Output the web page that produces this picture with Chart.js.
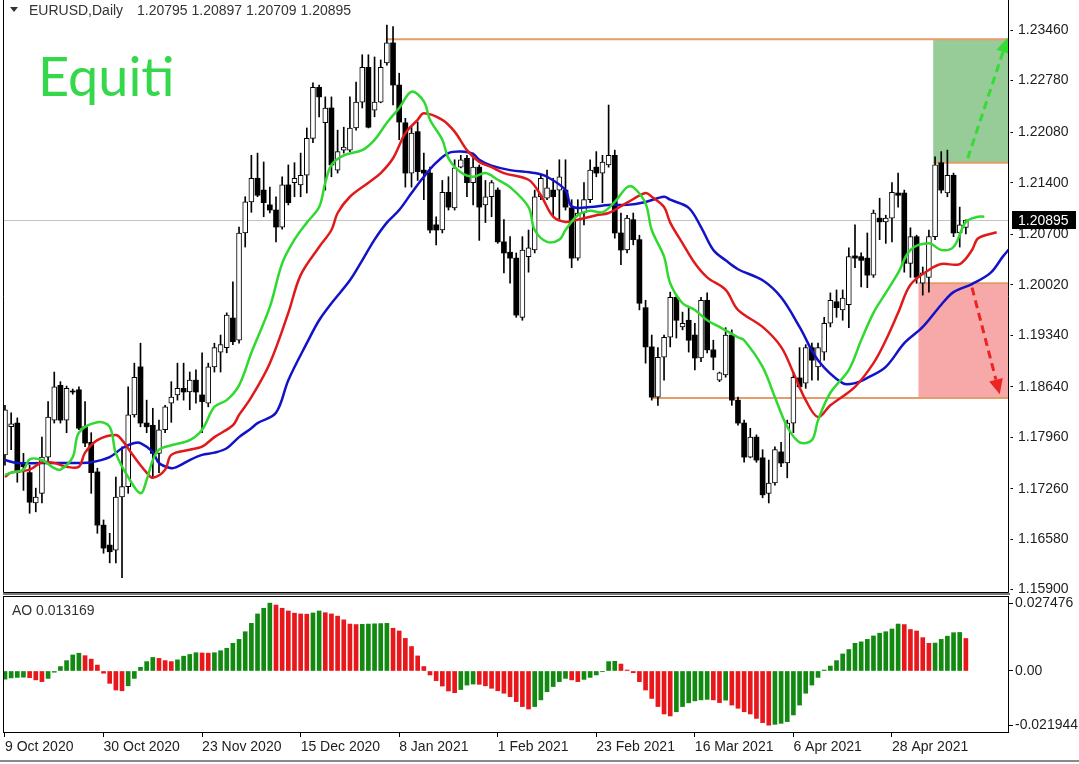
<!DOCTYPE html>
<html><head><meta charset="utf-8">
<script src="https://cdn.jsdelivr.net/npm/chart.js@4.4.1/dist/chart.umd.min.js"></script>
<style>
html,body{margin:0;padding:0;background:#fff;}
#wrap{position:relative;width:1079px;height:764px;overflow:hidden;background:#fff;font-family:'Liberation Sans',Arial,sans-serif;}
canvas{position:absolute;left:0;}
#main{top:0;width:1079px;height:596px;}
#ao{top:596px;width:1079px;height:168px;}
.txt{position:absolute;white-space:nowrap;color:#333;font-size:14px;line-height:16px;}
</style></head><body>
<div id="wrap">
<canvas id="main" width="1079" height="596"></canvas>
<canvas id="ao" width="1079" height="168"></canvas>
<div style="position:absolute;left:10px;top:7px;width:0;height:0;border-left:4px solid transparent;border-right:4px solid transparent;border-top:5px solid #333;"></div>
<div class="txt" id="sym" style="left:29px;top:2px;"></div>
<div class="txt" id="ohlc" style="left:137px;top:2px;"></div>
<div id="brand" style="position:absolute;left:38px;top:49px;font-family:Lato,sans-serif;font-size:54px;line-height:54px;color:#35d84a;">Equiti</div>
<div class="txt" id="aolab" style="left:12px;top:602px;"></div>
<div style="position:absolute;left:0;top:760px;width:1079px;height:2px;background:#8a8a8a;"></div>
</div>
<script>
const symbolName = 'EURUSD,Daily';
const dateLabels = ['9 Oct 2020','30 Oct 2020','23 Nov 2020','15 Dec 2020','8 Jan 2021','1 Feb 2021','23 Feb 2021','16 Mar 2021','6 Apr 2021','28 Apr 2021'];
const dateTickIdx = [0,16,32,48,64,80,96,112,128,144];
const priceTicks = [1.2346,1.2278,1.2208,1.2140,1.2070,1.2002,1.1934,1.1864,1.1796,1.1726,1.1658,1.1590];
const aoTickVals = [0.027476, 0, -0.021944];
const aoTickLabels = ['0.027476','0.00','-0.021944'];

const open = [1.1772,1.1810,1.1815,1.1762,1.1748,1.1707,1.1720,1.1769,1.1819,1.1866,
1.1819,1.1858,1.1860,1.1810,1.1789,1.1749,1.1677,1.1650,1.1643,1.1715,
1.1729,1.1826,1.1891,1.1815,1.1812,1.1774,1.1806,1.1842,1.1853,1.1862,
1.1857,1.1873,1.1853,1.1842,1.1891,1.1911,1.1917,1.1957,1.1927,1.2072,
1.2114,1.2146,1.2130,1.2110,1.2103,1.2080,1.2137,1.2140,1.2137,1.2150,
1.2200,1.2269,1.2221,1.2241,1.2157,1.2184,1.2184,1.2214,1.2249,1.2296,
1.2238,1.2249,1.2302,1.2329,1.2272,1.2221,1.2153,1.2209,1.2157,1.2153,
1.2083,1.2076,1.2127,1.2106,1.2161,1.2173,1.2140,1.2161,1.2110,1.2121,
1.2130,1.2060,1.2046,1.2038,1.1958,1.2040,1.2049,1.2121,1.2119,1.2130,
1.2130,1.2130,1.2106,1.2038,1.2099,1.2117,1.2161,1.2153,1.2164,1.2177,
1.2072,1.2049,1.2090,1.2063,1.1971,1.1918,1.1850,1.1904,1.1931,1.1985,
1.1945,1.1954,1.1934,1.1903,1.1981,1.1914,1.1873,1.1880,1.1934,1.1846,
1.1815,1.1769,1.1796,1.1768,1.1720,1.1734,1.1776,1.1761,1.1815,1.1876,
1.1869,1.1917,1.1891,1.1911,1.1950,1.1979,1.1968,1.1975,1.2041,1.2040,
1.2038,1.2015,1.2092,1.2087,1.2092,1.2126,1.2126,1.2031,1.2067,1.2004,
1.2012,1.2067,1.2167,1.2126,1.2150,1.2072,1.20795];
const high = [1.1839,1.1829,1.1822,1.1774,1.1758,1.1727,1.1796,1.1844,1.1884,1.1871,
1.1865,1.1861,1.1864,1.1844,1.1802,1.1754,1.1684,1.1666,1.1742,1.1783,
1.1864,1.1896,1.1923,1.1846,1.1835,1.1819,1.1839,1.1871,1.1896,1.1896,
1.1884,1.1887,1.1910,1.1896,1.1923,1.1934,1.1964,1.2006,1.2080,1.2121,
1.2177,1.2180,1.2168,1.2134,1.2121,1.2148,1.2164,1.2167,1.2180,1.2214,
1.2275,1.2272,1.2256,1.2256,1.2211,1.2215,1.2256,1.2276,1.2313,1.2313,
1.2310,1.2306,1.2353,1.2351,1.2288,1.2227,1.2215,1.2222,1.2180,1.2161,
1.2094,1.2143,1.2148,1.2171,1.2177,1.2177,1.2180,1.2164,1.2143,1.2143,
1.2133,1.2090,1.2067,1.2045,1.2067,1.2076,1.2130,1.2150,1.2157,1.2146,
1.2171,1.2171,1.2117,1.2117,1.2140,1.2171,1.2182,1.2177,1.2245,1.2184,
1.2099,1.2096,1.2099,1.2069,1.1981,1.1934,1.1917,1.1934,1.1992,1.1988,
1.1965,1.1971,1.1950,1.1985,1.1991,1.1927,1.1884,1.1944,1.1941,1.1850,
1.1819,1.1808,1.1799,1.1779,1.1765,1.1783,1.1789,1.1819,1.1883,1.1917,
1.1921,1.1923,1.1923,1.1958,1.1991,1.1995,1.1995,1.2052,1.2083,1.2045,
1.2072,1.2103,1.2119,1.2096,1.2140,1.2153,1.2130,1.2079,1.2069,1.2026,
1.2076,1.2175,1.2182,1.2184,1.2153,1.2107,1.20897];
const low = [1.1758,1.1779,1.1735,1.1724,1.1693,1.1695,1.1707,1.1761,1.1815,1.1815,
1.1802,1.1854,1.1806,1.1783,1.1720,1.1666,1.1639,1.1626,1.1626,1.1606,
1.1720,1.1823,1.1810,1.1802,1.1742,1.1748,1.1802,1.1816,1.1846,1.1846,
1.1833,1.1842,1.1802,1.1837,1.1884,1.1884,1.1910,1.1921,1.1923,1.2053,
1.2100,1.2121,1.2094,1.2099,1.2060,1.2077,1.2110,1.2121,1.2121,1.2126,
1.2194,1.2229,1.2130,1.2148,1.2153,1.2180,1.2182,1.2211,1.2241,1.2214,
1.2229,1.2248,1.2299,1.2245,1.2198,1.2134,1.2134,1.2143,1.2117,1.2072,
1.2056,1.2072,1.2103,1.2103,1.2160,1.2121,1.2110,1.2062,1.2086,1.2094,
1.2058,1.2018,1.2004,1.1958,1.1954,1.2019,1.2045,1.2117,1.2117,1.2094,
1.2090,1.2103,1.2025,1.2035,1.2083,1.2113,1.2148,1.2113,1.2161,1.2065,
1.2029,1.2045,1.2056,1.1968,1.1896,1.1846,1.1839,1.1873,1.1918,1.1930,
1.1941,1.1911,1.1887,1.1898,1.1910,1.1887,1.1871,1.1877,1.1839,1.1812,
1.1762,1.1768,1.1762,1.1714,1.1707,1.1731,1.1756,1.1741,1.1802,1.1862,
1.1862,1.1873,1.1873,1.1900,1.1945,1.1958,1.1954,1.1944,1.2025,1.1999,
1.1998,1.2012,1.2063,1.2058,1.2060,1.2107,1.2019,1.2012,1.2004,1.1988,
1.1992,1.2063,1.2126,1.2121,1.2067,1.2053,1.20709];
const close = [1.1833,1.1814,1.1748,1.1756,1.1708,1.1715,1.1769,1.1823,1.1864,1.1819,
1.1862,1.1857,1.1808,1.1788,1.1748,1.1677,1.1646,1.1641,1.1715,1.1729,
1.1826,1.1877,1.1815,1.1810,1.1774,1.1806,1.1837,1.1850,1.1862,1.1857,
1.1873,1.1857,1.1844,1.1891,1.1917,1.1921,1.1961,1.1925,1.2072,1.2114,
1.2146,1.2123,1.2113,1.2103,1.2080,1.2137,1.2113,1.2146,1.2150,1.2200,
1.2269,1.2256,1.2241,1.2164,1.2182,1.2188,1.2214,1.2249,1.2296,1.2215,
1.2249,1.2296,1.2329,1.2272,1.2222,1.2153,1.2207,1.2155,1.2153,1.2076,
1.2076,1.2127,1.2107,1.2160,1.2171,1.2140,1.2161,1.2107,1.2121,1.2140,
1.2060,1.2045,1.2038,1.1961,1.2049,1.2052,1.2121,1.2146,1.2133,1.2121,
1.2148,1.2107,1.2038,1.2099,1.2117,1.2157,1.2153,1.2168,1.2177,1.2072,
1.2049,1.2092,1.2063,1.1977,1.1918,1.1850,1.1904,1.1931,1.1985,1.1954,
1.1950,1.1927,1.1903,1.1981,1.1914,1.1904,1.1883,1.1934,1.1846,1.1815,
1.1769,1.1796,1.1765,1.1718,1.1734,1.1779,1.1761,1.1815,1.1877,1.1864,
1.1917,1.1900,1.1917,1.1950,1.1981,1.1971,1.1984,1.2040,1.2038,1.2035,
1.2015,1.2099,1.2087,1.2092,1.2127,1.2123,1.2031,1.2067,1.2012,1.2018,
1.2067,1.2164,1.2130,1.2150,1.2072,1.2083,1.20895];

// Alligator lines: [bar index, price]
const lips = [[0,1.1745],[1,1.1748],[3,1.1752],[4,1.1766],[6,1.1765],[8,1.1754],[9,1.1752],[11,1.1769],[12,1.1802],[15,1.1816],[17,1.1810],[18,1.1774],[20,1.1742],[22,1.1720],[23,1.1738],[24,1.1765],[25,1.1779],[27,1.1785],[30,1.1792],[32,1.1806],[34,1.1837],[36,1.1846],[38,1.1866],[40,1.1910],[43,1.1972],[45,1.2031],[47,1.2063],[49,1.2086],[51,1.2107],[52,1.2140],[53,1.2164],[55,1.2177],[58,1.2184],[60,1.2198],[62,1.2221],[64,1.2241],[66,1.2263],[68,1.2250],[69,1.2225],[71,1.2198],[72,1.2173],[74,1.2154],[76,1.2148],[78,1.2153],[80,1.2144],[82,1.2134],[85,1.2107],[86,1.2076],[88,1.2060],[90,1.2063],[91,1.2076],[93,1.2096],[95,1.2102],[97,1.2100],[99,1.2114],[101,1.2134],[102,1.2134],[104,1.2112],[105,1.2076],[107,1.2040],[108,1.2004],[110,1.1977],[112,1.1968],[114,1.1954],[116,1.1945],[119,1.1931],[120,1.1927],[123,1.1891],[125,1.1850],[127,1.1810],[129,1.1789],[131,1.1792],[132,1.1819],[134,1.1856],[137,1.1887],[139,1.1927],[141,1.1964],[143,1.1991],[145,1.2018],[147,1.2049],[150,1.2058],[152,1.2049],[154,1.2053],[156,1.2087],[158,1.2094],[159,1.2094]];
const teeth = [[0,1.1742],[1,1.1748],[4,1.1752],[6,1.1762],[8,1.1761],[10,1.1756],[12,1.1756],[13,1.1775],[15,1.1792],[18,1.1799],[19,1.1792],[21,1.1769],[23,1.1748],[24,1.1741],[26,1.1752],[27,1.1772],[30,1.1779],[32,1.1783],[34,1.1796],[37,1.1812],[38,1.1826],[40,1.1850],[43,1.1896],[46,1.1964],[48,1.2015],[51,1.2053],[53,1.2076],[54,1.2099],[56,1.2121],[59,1.2140],[61,1.2153],[63,1.2173],[65,1.2207],[67,1.2225],[68,1.2234],[71,1.2225],[73,1.2209],[75,1.2184],[77,1.2168],[79,1.2161],[81,1.2153],[85,1.2144],[87,1.2123],[89,1.2094],[91,1.2087],[93,1.2090],[96,1.2096],[98,1.2099],[101,1.2113],[104,1.2126],[105,1.2121],[107,1.2107],[108,1.2086],[110,1.2058],[112,1.2031],[114,1.2012],[117,1.1995],[119,1.1968],[123,1.1945],[126,1.1918],[128,1.1883],[130,1.1846],[132,1.1823],[134,1.1839],[138,1.1864],[141,1.1896],[143,1.1927],[145,1.1964],[147,1.2002],[150,1.2022],[152,1.2030],[155,1.2030],[157,1.2049],[158,1.2065],[161,1.2073]];
const jaw = [[0,1.1765],[2,1.1761],[6,1.1761],[9,1.1761],[12,1.1761],[14,1.1762],[17,1.1769],[19,1.1781],[21,1.1788],[22,1.1788],[24,1.1776],[25,1.1761],[27,1.1754],[28,1.1756],[30,1.1765],[32,1.1772],[34,1.1775],[36,1.1781],[38,1.1796],[40,1.1808],[41,1.1815],[44,1.1829],[46,1.1873],[49,1.1923],[51,1.1954],[53,1.1977],[56,1.2008],[58,1.2035],[60,1.2063],[62,1.2086],[64,1.2103],[66,1.2126],[68,1.2148],[70,1.2167],[72,1.2180],[74,1.2182],[76,1.2179],[77,1.2171],[79,1.2163],[82,1.2157],[86,1.2153],[88,1.2148],[91,1.2130],[92,1.2108],[95,1.2107],[98,1.2110],[101,1.2110],[104,1.2114],[107,1.2121],[108,1.2117],[111,1.2106],[113,1.2080],[115,1.2049],[117,1.2035],[119,1.2023],[123,1.2008],[126,1.1985],[129,1.1945],[132,1.1900],[136,1.1869],[138,1.1869],[140,1.1876],[143,1.1891],[146,1.1923],[149,1.1945],[152,1.1975],[154,1.1992],[157,1.2003],[160,1.2018],[162,1.2040],[164,1.2060]];

const ao = [-0.0033,-0.0028,-0.0026,-0.0025,-0.0027,-0.0036,-0.0043,-0.0030,-0.0005,0.0018,
0.0042,0.0065,0.0072,0.0062,0.0048,0.0024,-0.0009,-0.0050,-0.0077,-0.0080,
-0.0060,-0.0030,0.0015,0.0038,0.0055,0.0051,0.0042,0.0038,0.0045,0.0060,
0.0067,0.0074,0.0073,0.0072,0.0074,0.0082,0.0092,0.0112,0.0128,0.0159,
0.0193,0.0231,0.0254,0.027476,0.0267,0.0254,0.0243,0.0234,0.0231,0.0230,
0.0235,0.0243,0.0236,0.0231,0.0222,0.0207,0.0190,0.0188,0.0189,0.0190,
0.0191,0.0192,0.0193,0.0173,0.0162,0.0132,0.0099,0.0061,0.0018,-0.0016,
-0.0039,-0.0061,-0.0081,-0.0088,-0.0075,-0.0057,-0.0053,-0.0054,-0.0060,-0.0070,
-0.0080,-0.0090,-0.0104,-0.0124,-0.0144,-0.0154,-0.0144,-0.0117,-0.0084,-0.0063,
-0.0043,-0.0030,-0.0036,-0.0043,-0.0034,-0.0026,-0.0016,-0.0003,0.0038,0.0039,
0.0028,0.0004,-0.0007,-0.0043,-0.0077,-0.0111,-0.0144,-0.0174,-0.0182,-0.0165,
-0.0144,-0.0129,-0.0121,-0.0117,-0.0115,-0.0117,-0.0128,-0.0118,-0.0138,-0.0151,
-0.0165,-0.0174,-0.0192,-0.0209,-0.021944,-0.0216,-0.0212,-0.0205,-0.0178,-0.0138,
-0.0090,-0.0057,-0.0026,0.0004,0.0020,0.0042,0.0069,0.0087,0.0112,0.0118,
0.0128,0.0142,0.0153,0.0159,0.0170,0.0190,0.0188,0.0168,0.0162,0.0135,
0.0112,0.0113,0.0128,0.0141,0.0155,0.0156,0.013169];

const bidPrice = 1.20895;
// horizontal levels: [start bar index, price]
const levelLines = [[62.0,1.2334],[150.7,1.2167],[148.3,1.2004],[105.0,1.1849]];
// shaded zones: [start bar index, low price, high price]
const greenZone = [150.7,1.2167,1.2334];
const redZone = [148.3,1.1849,1.2004];
// arrows: [x0, p0, x1, p1]
const upArrow = [156.3,1.2173,162.8,1.2336];
const downArrow = [157.0,1.1998,161.5,1.1854];

const xMin = -0.16, xMax = 162.84;
const priceMin = 1.15866, priceMax = 1.2387;
const aoMin = -0.0247, aoMax = 0.03036;

Chart.defaults.font.family = "'Liberation Sans', Arial, sans-serif";
Chart.defaults.font.size = 14;
Chart.defaults.color = '#1e1e1e';

const n = open.length;
document.getElementById('sym').textContent = symbolName;
document.getElementById('ohlc').textContent = [open[n-1],high[n-1],low[n-1],close[n-1]].map(v=>v.toFixed(5)).join(' ');
document.getElementById('aolab').textContent = 'AO ' + ao[n-1];

const wickData = [], bullData = [], bearData = [];
for (let i = 0; i < n; i++) {
  wickData.push({x:i, y:[low[i], high[i]]});
  const b = {x:i, y:[Math.min(open[i],close[i]), Math.max(open[i],close[i])]};
  if (close[i] >= open[i]) bullData.push(b); else bearData.push(b);
}
const toXY = arr => arr.map(p => ({x:p[0], y:p[1]}));

function drawArrow(ctx, xs, ys, a, color) {
  const x0 = xs.getPixelForValue(a[0]), y0 = ys.getPixelForValue(a[1]);
  const x1 = xs.getPixelForValue(a[2]), y1 = ys.getPixelForValue(a[3]);
  const ang = Math.atan2(y1 - y0, x1 - x0);
  const hl = 15, hw = 7;
  const bx = x1 - hl * Math.cos(ang), by = y1 - hl * Math.sin(ang);
  ctx.save();
  ctx.strokeStyle = color; ctx.fillStyle = color; ctx.lineWidth = 3;
  ctx.setLineDash([8,5]);
  ctx.beginPath(); ctx.moveTo(x0,y0); ctx.lineTo(bx,by); ctx.stroke();
  ctx.setLineDash([]);
  ctx.beginPath();
  ctx.moveTo(x1,y1);
  ctx.lineTo(bx + hw*Math.sin(ang), by - hw*Math.cos(ang));
  ctx.lineTo(bx - hw*Math.sin(ang), by + hw*Math.cos(ang));
  ctx.closePath(); ctx.fill();
  ctx.restore();
}

const mainDecor = {
  id: 'mainDecor',
  beforeDatasetsDraw(chart) {
    const {ctx, chartArea: ca, scales: {x, y}} = chart;
    ctx.save();
    ctx.beginPath(); ctx.rect(ca.left, ca.top, ca.right - ca.left, ca.bottom - ca.top); ctx.clip();
    const zone = (z, c) => {
      const xl = x.getPixelForValue(z[0]);
      const yt = y.getPixelForValue(z[2]), yb = y.getPixelForValue(z[1]);
      ctx.fillStyle = c; ctx.fillRect(xl, yt, ca.right - xl, yb - yt);
    };
    zone(greenZone, '#97cb97');
    zone(redZone, '#f7a9a9');
    const by = Math.round(y.getPixelForValue(bidPrice)) + 0.5;
    ctx.strokeStyle = '#c4c4c4'; ctx.lineWidth = 1;
    ctx.beginPath(); ctx.moveTo(ca.left, by); ctx.lineTo(ca.right, by); ctx.stroke();
    ctx.strokeStyle = '#e59c6a'; ctx.lineWidth = 2;
    levelLines.forEach(l => {
      const yy = y.getPixelForValue(l[1]);
      ctx.beginPath(); ctx.moveTo(x.getPixelForValue(l[0]), yy); ctx.lineTo(ca.right, yy); ctx.stroke();
    });
    ctx.restore();
  },
  afterDatasetsDraw(chart) {
    const {ctx, chartArea: ca, scales: {x, y}} = chart;
    drawArrow(ctx, x, y, upArrow, '#36dc36');
    drawArrow(ctx, x, y, downArrow, '#ec2424');
    ctx.save();
    ctx.fillStyle = '#fff';
    ctx.fillRect(ca.right + 0.5, 0, 2, ca.bottom);
    ctx.strokeStyle = '#000'; ctx.lineWidth = 1;
    ctx.beginPath();
    ctx.moveTo(ca.left - 0.5, 0); ctx.lineTo(ca.left - 0.5, ca.bottom + 0.5);
    ctx.lineTo(ca.right + 0.5, ca.bottom + 0.5); ctx.lineTo(ca.right + 0.5, 0);
    ctx.stroke();
    ctx.fillStyle = '#7a7a7a';
    ctx.fillRect(ca.left - 1, ca.bottom + 1, ca.right - ca.left + 3, 2);
    ctx.restore();
  },
  afterDraw(chart) {
    const {ctx, chartArea: ca, scales: {y}} = chart;
    const yy = y.getPixelForValue(bidPrice);
    ctx.save();
    ctx.fillStyle = '#000';
    ctx.fillRect(ca.right + 4, Math.round(yy) - 9, 64, 18);
    ctx.fillStyle = '#fff';
    ctx.font = "14px 'Liberation Sans', Arial, sans-serif";
    ctx.textBaseline = 'middle'; ctx.textAlign = 'left';
    ctx.fillText(bidPrice.toFixed(5), ca.right + 10, Math.round(yy) + 1);
    ctx.restore();
  }
};

new Chart(document.getElementById('main'), {
  type: 'bar',
  data: {
    datasets: [
      {type:'line', label:'lips', data: toXY(lips), borderColor:'#2fd92f', borderWidth:2.5, pointRadius:0, tension:0.35, order:0},
      {type:'line', label:'teeth', data: toXY(teeth), borderColor:'#e01a1a', borderWidth:2.5, pointRadius:0, tension:0.35, order:0},
      {type:'line', label:'jaw', data: toXY(jaw), borderColor:'#1212c8', borderWidth:2.5, pointRadius:0, tension:0.35, order:0},
      {label:'bull', data: bullData, backgroundColor:'#ffffff', borderColor:'#000', borderWidth:1, borderSkipped:false, barThickness:5, minBarLength:1, grouped:false, order:1},
      {label:'bear', data: bearData, backgroundColor:'#000000', borderWidth:0, barThickness:5, minBarLength:1, grouped:false, order:1},
      {label:'wick', data: wickData, backgroundColor:'#000000', borderWidth:0, barThickness:1, grouped:false, order:2}
    ]
  },
  options: {
    responsive:false, animation:false, events:[],
    layout:{padding:{left:4, top:0, right:0, bottom:4}},
    plugins:{legend:{display:false}, tooltip:{enabled:false}},
    scales:{
      x:{type:'linear', display:false, min:xMin, max:xMax, offset:false, grid:{offset:false}},
      y:{type:'linear', position:'right', min:priceMin, max:priceMax,
         afterBuildTicks: s => { s.ticks = priceTicks.map(v => ({value:v})); },
         afterFit: s => { s.width = 71; s.paddingTop = 0; s.paddingBottom = 0; },
         ticks:{callback: v => Number(v).toFixed(5), padding:5, autoSkip:false},
         grid:{drawOnChartArea:false, drawTicks:true, tickLength:5, color:'#000'},
         border:{display:false}}
    }
  },
  plugins:[mainDecor]
});

const aoColors = ao.map((v,i) => (i === 0 || v > ao[i-1]) ? '#128a12' : '#e8171c');
const aoFrame = {
  id:'aoFrame',
  afterDatasetsDraw(chart) {
    const {ctx, chartArea: ca} = chart;
    ctx.save();
    ctx.strokeStyle = '#000'; ctx.lineWidth = 1;
    ctx.strokeRect(ca.left - 0.5, ca.top + 0.5, ca.right - ca.left + 1, ca.bottom - ca.top);
    ctx.restore();
  }
};
new Chart(document.getElementById('ao'), {
  type:'bar',
  data:{datasets:[{label:'AO', data: ao.map((v,i)=>({x:i, y:v})), backgroundColor: aoColors, borderWidth:0, barThickness:4, grouped:false}]},
  options:{
    responsive:false, animation:false, events:[],
    layout:{padding:{left:4, top:0, right:0, bottom:0}},
    plugins:{legend:{display:false}, tooltip:{enabled:false}},
    scales:{
      x:{type:'linear', position:'bottom', min:xMin, max:xMax, offset:false,
         afterBuildTicks: s => { s.ticks = dateTickIdx.map(v => ({value:v})); },
         afterFit: s => { s.height = 32; s.paddingLeft = 0; s.paddingRight = 0; },
         ticks:{callback:(v,i) => dateLabels[i], align:'start', autoSkip:false, maxRotation:0, minRotation:0, padding:2},
         grid:{drawOnChartArea:false, drawTicks:true, tickLength:5, color:'#000', offset:false},
         border:{display:false}},
      y:{type:'linear', position:'right', min:aoMin, max:aoMax,
         afterBuildTicks: s => { s.ticks = aoTickVals.map(v => ({value:v})); },
         afterFit: s => { s.width = 71; s.paddingTop = 0; s.paddingBottom = 0; },
         ticks:{callback:(v,i) => aoTickLabels[i], padding:2, autoSkip:false},
         grid:{drawOnChartArea:false, drawTicks:true, tickLength:5, color:'#000'},
         border:{display:false}}
    }
  },
  plugins:[aoFrame]
});
</script>
</body></html>
